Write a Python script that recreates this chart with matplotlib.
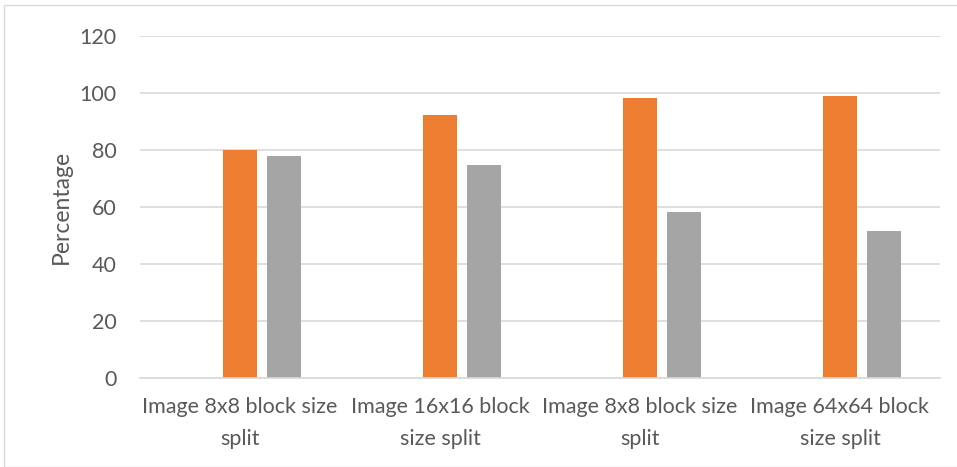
import matplotlib
matplotlib.use("Agg")
import matplotlib.pyplot as plt
import numpy as np
from matplotlib.patches import Rectangle

categories = ["Image 8x8 block size\nsplit", "Image 16x16 block\nsize split",
              "Image 8x8 block size\nsplit", "Image 64x64 block\nsize split"]
series_blue = [0, 0, 0, 0]
series_orange = [80.0, 92.3, 98.1, 98.8]
series_gray = [77.8, 74.8, 58.4, 51.5]
yticks = [0, 20, 40, 60, 80, 100, 120]

plt.rcParams['font.family'] = ['Lato', 'DejaVu Sans']
W, H = 957, 467
fig = plt.figure(figsize=(W/100, H/100), dpi=100)
ax = fig.add_axes([140/W, 1-378/H, 800/W, 342/H])

x = np.arange(len(categories))
w = 0.172
off = 0.22
ax.bar(x - off, series_blue, w, color="#4472C4")
ax.bar(x, series_orange, w, color="#ED7D31")
ax.bar(x + off, series_gray, w, color="#A5A5A5")

ax.set_xlim(-0.5, len(categories) - 0.5)
ax.set_ylim(0, 120)
ax.set_yticks(yticks)
ax.yaxis.grid(True, color="#d9d9d9", linewidth=1.2)
ax.set_axisbelow(True)
for s in ["top", "right", "left"]:
    ax.spines[s].set_visible(False)
ax.spines["bottom"].set_color("#d9d9d9")
ax.spines["bottom"].set_linewidth(1.2)
ax.tick_params(axis="both", length=0, colors="#595959", labelsize=15.5)
ax.tick_params(axis="y", pad=17)
ax.tick_params(axis="x", pad=14)
ax.set_xticks(x)
ax.set_xticklabels(categories, linespacing=1.7)
ax.set_ylabel("Percentage", fontsize=16.5, color="#595959", labelpad=5)

fig.patches.append(Rectangle((4/W, 0), 1, 1 - 5/H, transform=fig.transFigure,
                             fill=False, edgecolor="#d9d9d9", linewidth=1))
fig.savefig("out.png", dpi=100)
